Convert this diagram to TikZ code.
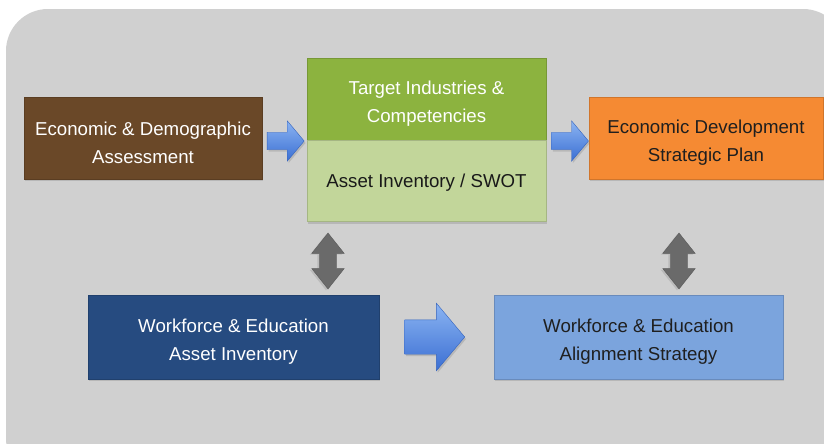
\documentclass[tikz,border=0pt]{standalone}
\usepackage{fontspec}
\setmainfont{Liberation Sans}
\usetikzlibrary{shapes,arrows,positioning,shadows,calc}

\definecolor{bggray}{HTML}{D0D0D0}
\definecolor{brownbox}{HTML}{6A4828}
\definecolor{greenbox}{HTML}{8CB33F}
\definecolor{lightgreen}{HTML}{C2D69A}
\definecolor{orangebox}{HTML}{F58A33}
\definecolor{darkblue}{HTML}{264B80}
\definecolor{lightblue}{HTML}{7BA4DD}
\definecolor{arrowlight}{HTML}{8BB4F2}
\definecolor{arrowdark}{HTML}{3B6FD3}
\definecolor{arrowgray}{HTML}{6A6A6A}

% invisible strut that pushes box text a little lower
\newcommand{\lowtext}{\rule{0pt}{17pt}}

\begin{document}
\begin{tikzpicture}[x=0.75pt, y=-0.75pt, every node/.style={font=\fontsize{14}{21}\selectfont},
    box/.style={rectangle, draw=#1!85!black, line width=0.4pt, fill=#1, align=center, inner sep=0pt,
        drop shadow={shadow xshift=1pt, shadow yshift=-1.5pt, opacity=0.3}},
    bluearrow/.style={single arrow, draw=arrowdark!90!black, line width=0.3pt,
        top color=arrowlight, bottom color=arrowdark, single arrow tip angle=100, inner xsep=0pt,
        drop shadow={shadow xshift=1pt, shadow yshift=-1.5pt, opacity=0.3}},
    smallarrow/.style={bluearrow, minimum height=27.75pt, inner ysep=6.4pt, single arrow head extend=8.6pt},
    bigarrow/.style={bluearrow, minimum height=45pt, inner ysep=12.75pt, single arrow head extend=12.4pt},
    grayarrow/.style={double arrow, rotate=90, fill=arrowgray, draw=arrowgray!85!black, line width=0.3pt,
        minimum height=42pt, inner xsep=0pt, inner ysep=6.4pt, double arrow head extend=5.6pt,
        double arrow tip angle=77, drop shadow={shadow xshift=-1.5pt, shadow yshift=-1pt, opacity=0.25}}]

    \useasboundingbox (0,0) rectangle (824,443);
    \begin{scope}
        \clip (0,0) rectangle (824,443);
        \fill[bggray, rounded corners=31.5pt] (6,9) rectangle (845,480);
    \end{scope}

    % top row
    \node[box=greenbox, text=white, minimum width=179.25pt, minimum height=61.5pt] (target) at (426.5,99) {\lowtext Target Industries \&\\Competencies};
    \node[box=lightgreen, text=black!90, minimum width=179.25pt, minimum height=60.75pt, below=0pt of target] (asset) {\rule{0pt}{13pt}Asset Inventory / SWOT};
    \node[box=brownbox, text=white, minimum width=178.5pt, minimum height=61.5pt] (econ) at (143,138) {\lowtext Economic \& Demographic\\Assessment};
    \node[box=orangebox, text=black!88, minimum width=175.5pt, minimum height=61.5pt] (plan) at (706,138) {\lowtext Economic Development\\Strategic Plan};

    % bottom row
    \node[box=darkblue, text=white, minimum width=218.25pt, minimum height=63pt] (wfasset) at (233.5,337) {\lowtext Workforce \& Education\\Asset Inventory};
    \node[box=lightblue, text=black!88, minimum width=216.75pt, minimum height=63pt] (wfalign) at (638.5,337) {\lowtext Workforce \& Education\\Alignment Strategy};

    % arrows
    \node[smallarrow] (econtotarget) at ($(econ.east)!0.5!(econ.east -| target.west)+(-2.5,3)$) {};
    \node[smallarrow, anchor=tip] (targettoplan) at ($(plan.west)+(0,3)$) {};
    \node[bigarrow] (assettoalign) at ($(wfasset.east)!0.5!(wfalign.west)+(-9,0)$) {};
    \node[grayarrow] (assetlink) at (328,261) {};
    \node[grayarrow] (planlink) at (679,261) {};
\end{tikzpicture}
\end{document}
